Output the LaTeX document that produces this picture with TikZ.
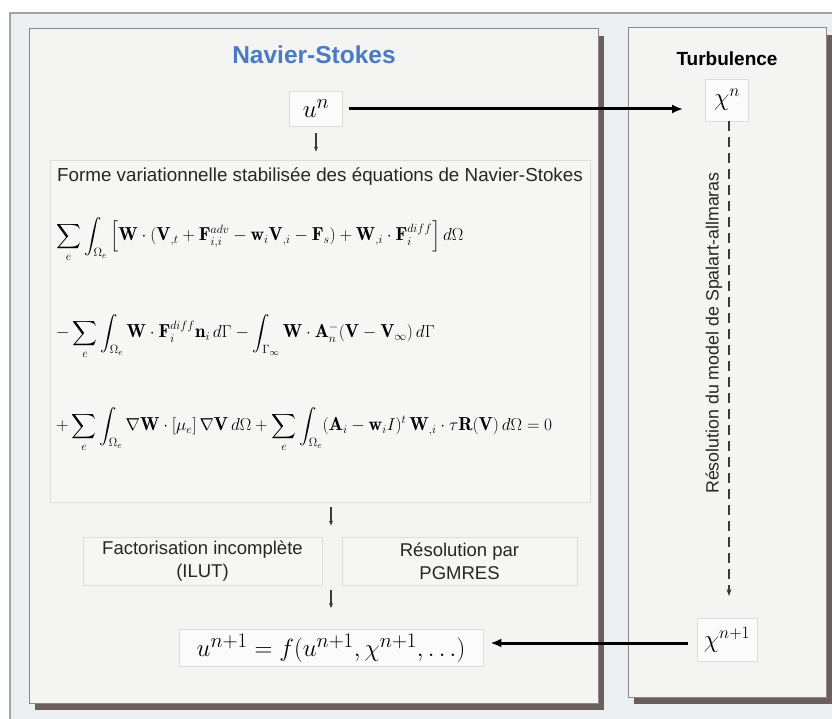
\documentclass[tikz,border=0pt]{standalone}
\usepackage{amsmath}
\usepackage{fontspec}
\newfontfamily\arialfont{Liberation Sans}
\usetikzlibrary{positioning}
\usetikzlibrary{arrows.meta}
\usetikzlibrary{shadows}
\definecolor{frameBg}{HTML}{ECEFF2}
\definecolor{frameEdge}{HTML}{A2A4A6}
\definecolor{panelBg}{HTML}{F4F4F3}
\definecolor{panelEdge}{HTML}{8C8888}
\definecolor{shadowC}{HTML}{6B5E60}
\definecolor{boxBg}{HTML}{F6F6F5}
\definecolor{boxEdge}{HTML}{DCDCDA}
\definecolor{titleBlue}{HTML}{4A7BC2}
\definecolor{tickC}{HTML}{3A3A3A}
\definecolor{textC}{HTML}{262626}

\tikzset{
  panel/.style={draw=panelEdge, fill=panelBg, line width=1pt, inner sep=0pt,
    drop shadow={shadow xshift=6pt, shadow yshift=-7pt, fill=shadowC, opacity=1}},
  varbox/.style={draw=boxEdge, fill=white!60!boxBg, line width=0.8pt, inner sep=0pt},
  stepbox/.style={draw=boxEdge, fill=boxBg, line width=0.8pt, inner sep=0pt, align=center,
    text=textC, font=\arialfont\fontsize{18.5}{23}\selectfont},
  mainarrow/.style={-{Latex[length=11pt,width=9pt]}, line width=3pt, black},
  flowtick/.style={-{Stealth[length=5pt,width=4pt]}, line width=1.2pt, draw=tickC},
  eqline/.style={anchor=west, inner sep=0pt, font=\fontsize{18.8}{21}\selectfont}
}

\begin{document}
\begin{tikzpicture}[x=1pt, y=-1pt]
  \useasboundingbox (0,0) rectangle (832,719);

  % outer frame
  \draw[frameEdge, fill=frameBg, line width=1.5pt] (10,13) rectangle (870,750);

  % panels
  \node[panel, minimum width=569pt, minimum height=674pt] (nsPanel) at (313.5,366) {};
  \node[panel, minimum width=198pt, minimum height=669pt] (tbPanel) at (727,362.5) {};

  % titles
  \node[font=\arialfont\bfseries\fontsize{24.5}{26}\selectfont, text=titleBlue] (nsTitle) at (314,55) {Navier-Stokes};
  \node[font=\arialfont\bfseries\fontsize{19}{21}\selectfont, text=black] (tbTitle) at (727,59) {Turbulence};

  % variables
  \node[varbox, minimum width=53pt, minimum height=35pt, font=\fontsize{32}{32}\selectfont] (un) at (316,109) {$u^n$};
  \node[varbox, minimum width=43pt, minimum height=42pt, font=\fontsize{24}{24}\selectfont] (chin) at (727,100) {$\chi^n$};
  \node[varbox, minimum width=60pt, minimum height=43pt, font=\fontsize{24}{24}\selectfont] (chinext) at (727,640) {$\chi^{n+1}$};
  \node[varbox, minimum width=304pt, minimum height=37pt, font=\fontsize{30}{30}\selectfont] (unext) at (331,648) {$u^{n+1}=f(u^{n+1},\chi^{n+1},\ldots)$};

  % weak form
  \node[stepbox, minimum width=540pt, minimum height=342pt] (form) at (320,331) {};
  \node[text=textC, font=\arialfont\fontsize{18.8}{22}\selectfont] (formTitle) at (320,177) {Forme variationnelle stabilisée des équations de Navier-Stokes};
  \node[eqline] (eqA) at (56,240) {$\displaystyle\sum_e\int_{\Omega_e}\Big[\mathbf{W}\cdot(\mathbf{V}_{,t}+\mathbf{F}^{adv}_{i,i}-\mathbf{w}_i\mathbf{V}_{,i}-\mathbf{F}_s)+\mathbf{W}_{,i}\cdot\mathbf{F}^{diff}_i\Big]\,d\Omega$};
  \node[eqline] (eqB) at (56,337) {$\displaystyle-\sum_e\int_{\Omega_e}\mathbf{W}\cdot\mathbf{F}^{diff}_i\mathbf{n}_i\,d\Gamma-\int_{\Gamma_\infty}\mathbf{W}\cdot\mathbf{A}^-_n(\mathbf{V}-\mathbf{V}_\infty)\,d\Gamma$};
  \node[eqline] (eqC) at (56,430) {$\displaystyle+\sum_e\int_{\Omega_e}\nabla\mathbf{W}\cdot[\mu_e]\,\nabla\mathbf{V}\,d\Omega+\sum_e\int_{\Omega_e}(\mathbf{A}_i-\mathbf{w}_iI)^t\,\mathbf{W}_{,i}\cdot\tau\mathbf{R}(\mathbf{V})\,d\Omega=0$};

  % solver
  \node[stepbox, minimum width=239pt, minimum height=48pt] (ilut) at (202.5,561) {Factorisation incomplète\\(ILUT)};
  \node[stepbox, minimum width=235pt, minimum height=48pt] (gmres) at (459.5,561) {Résolution par\\PGMRES};

  % turbulence model
  \node[rotate=90, text=textC, font=\arialfont\fontsize{17.8}{20}\selectfont] (saLabel) at (714,333) {Résolution du model de Spalart-allmaras};
  \coordinate (saEnd) at (729,596);

  % connectors
  \draw[mainarrow, shorten <=6pt, shorten >=22pt] (un.east) -- (un.east -| chin.west);
  \draw[mainarrow, shorten <=9pt, shorten >=7pt] (chinext.west |- 0,643) -- (unext.east |- 0,643);
  \draw[flowtick, shorten <=6pt, shorten >=8pt] (un.south) -- (form.north -| un.south);
  \draw[flowtick, shorten <=5pt, shorten >=11pt] (form.south -| unext.north) -- (ilut.north -| unext.north);
  \draw[flowtick, shorten <=5pt, shorten >=21pt] (ilut.south -| unext.north) -- (unext.north);
  \draw[dashed, dash pattern=on 10pt off 6pt, line width=1.1pt, draw=tickC, -{Stealth[length=7pt,width=5pt]}] (chin.south -| saEnd) -- (saEnd);
\end{tikzpicture}
\end{document}
